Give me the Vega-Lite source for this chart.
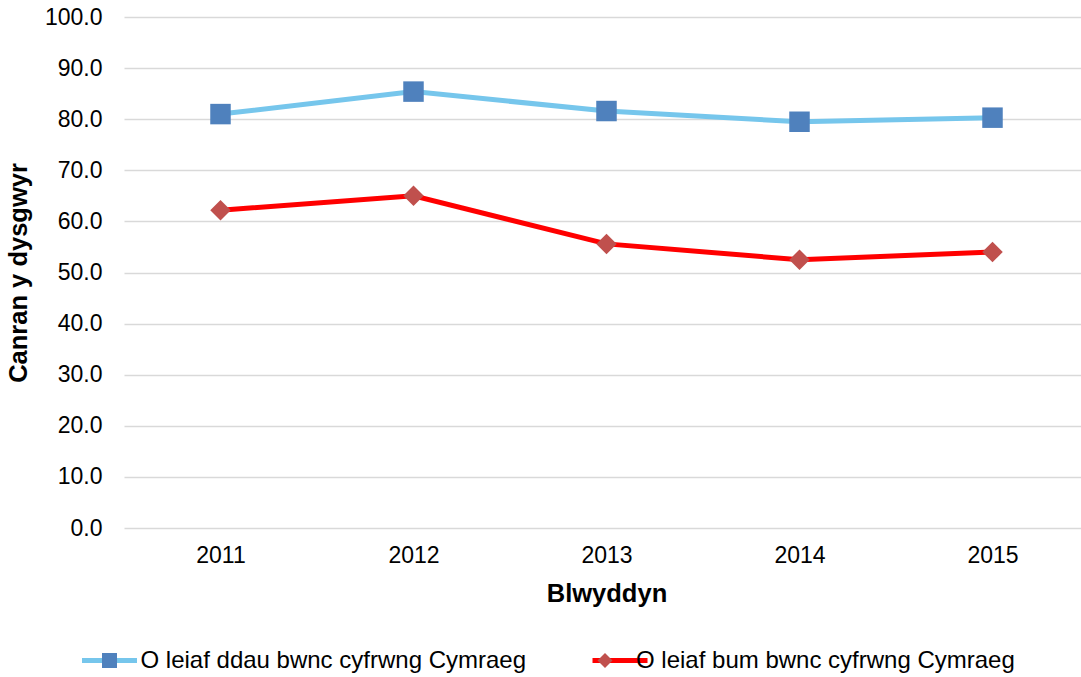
{
  "$schema": "https://vega.github.io/schema/vega-lite/v6.json",
  "width": 957,
  "height": 511,
  "autosize": {"type": "none"},
  "padding": {"left": 124, "top": 17, "right": 0, "bottom": 149},
  "background": "white",
  "config": {
    "view": {"stroke": null},
    "font": "Liberation Sans",
    "axis": {"labelColor": "#000000", "titleColor": "#000000", "labelFont": "Liberation Sans", "titleFont": "Liberation Sans"},
    "legend": {"labelColor": "#000000", "labelFont": "Liberation Sans", "labelLimit": 0}
  },
  "data": {
    "values": [
      {"Blwyddyn": "2011", "Cyfres": "O leiaf ddau bwnc cyfrwng Cymraeg", "Canran": 81.0},
      {"Blwyddyn": "2012", "Cyfres": "O leiaf ddau bwnc cyfrwng Cymraeg", "Canran": 85.4},
      {"Blwyddyn": "2013", "Cyfres": "O leiaf ddau bwnc cyfrwng Cymraeg", "Canran": 81.6},
      {"Blwyddyn": "2014", "Cyfres": "O leiaf ddau bwnc cyfrwng Cymraeg", "Canran": 79.5},
      {"Blwyddyn": "2015", "Cyfres": "O leiaf ddau bwnc cyfrwng Cymraeg", "Canran": 80.3},
      {"Blwyddyn": "2011", "Cyfres": "O leiaf bum bwnc cyfrwng Cymraeg", "Canran": 62.2},
      {"Blwyddyn": "2012", "Cyfres": "O leiaf bum bwnc cyfrwng Cymraeg", "Canran": 65.0},
      {"Blwyddyn": "2013", "Cyfres": "O leiaf bum bwnc cyfrwng Cymraeg", "Canran": 55.6},
      {"Blwyddyn": "2014", "Cyfres": "O leiaf bum bwnc cyfrwng Cymraeg", "Canran": 52.5},
      {"Blwyddyn": "2015", "Cyfres": "O leiaf bum bwnc cyfrwng Cymraeg", "Canran": 54.0}
    ]
  },
  "encoding": {
    "x": {
      "field": "Blwyddyn",
      "type": "ordinal",
      "scale": {"type": "point", "padding": 0.5, "range": [0, 965]},
      "axis": {
        "labelAngle": 0,
        "labelFontSize": 23,
        "labelPadding": 16,
        "ticks": false,
        "domain": false,
        "grid": false,
        "title": "Blwyddyn",
        "titleFontSize": 25.5,
        "titleFontWeight": "bold",
        "titlePadding": 14
      }
    },
    "y": {
      "field": "Canran",
      "type": "quantitative",
      "scale": {"domain": [0, 100]},
      "axis": {
        "values": [0, 10, 20, 30, 40, 50, 60, 70, 80, 90, 100],
        "format": ".1f",
        "labelFontSize": 23,
        "labelPadding": 22,
        "ticks": false,
        "domain": false,
        "grid": true,
        "gridColor": "#D9D9D9",
        "gridWidth": 1.5,
        "title": "Canran y dysgwyr",
        "titleFontSize": 25.5,
        "titleFontWeight": "bold",
        "titlePadding": 13
      }
    }
  },
  "layer": [
    {
      "mark": {"type": "line", "strokeWidth": 5},
      "encoding": {
        "color": {
          "field": "Cyfres",
          "type": "nominal",
          "scale": {
            "domain": ["O leiaf ddau bwnc cyfrwng Cymraeg", "O leiaf bum bwnc cyfrwng Cymraeg"],
            "range": ["#76C6EC", "#FF0000"]
          },
          "legend": {
            "orient": "none",
            "legendX": -44.5,
            "legendY": 613.5,
            "direction": "horizontal",
            "title": null,
            "padding": 0,
            "symbolType": "stroke",
            "symbolSize": 3025,
            "symbolStrokeWidth": 5,
            "labelFontSize": 24,
            "labelOffset": 1,
            "labelExpr": "''",
            "columnPadding": 434.5
          }
        }
      }
    },
    {
      "mark": {"type": "point", "filled": true, "opacity": 1, "size": 420, "strokeWidth": 0},
      "encoding": {
        "fill": {
          "field": "Cyfres",
          "type": "nominal",
          "sort": "descending",
          "scale": {"range": ["#4F81BD", "#C0504D"]},
          "legend": {
            "orient": "none",
            "legendX": -44.5,
            "legendY": 631.5,
            "direction": "horizontal",
            "title": null,
            "padding": 0,
            "symbolSize": 225,
            "symbolStrokeWidth": 0,
            "symbolOffset": 18,
            "labelFontSize": 24,
            "labelOffset": 19,
            "columnPadding": 48.5
          }
        },
        "shape": {
          "field": "Cyfres",
          "type": "nominal",
          "sort": "descending",
          "scale": {"range": ["square", "diamond"]},
          "legend": {
            "orient": "none",
            "legendX": -44.5,
            "legendY": 631.5,
            "direction": "horizontal",
            "title": null,
            "padding": 0,
            "symbolSize": 225,
            "symbolStrokeWidth": 0,
            "symbolOffset": 18,
            "labelFontSize": 24,
            "labelOffset": 19,
            "columnPadding": 48.5
          }
        }
      }
    }
  ]
}
